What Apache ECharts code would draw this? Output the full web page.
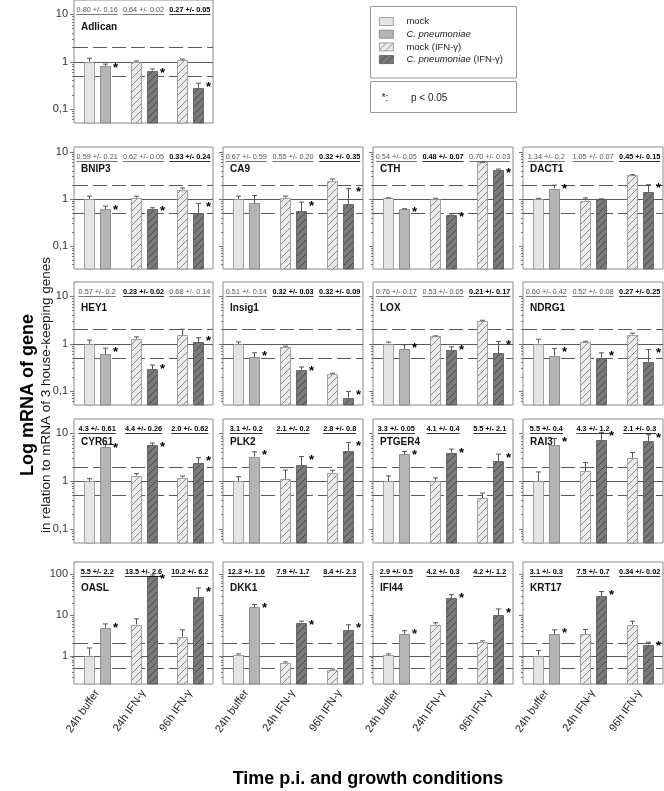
<!DOCTYPE html>
<html><head><meta charset="utf-8">
<script src="https://cdn.jsdelivr.net/npm/echarts@6/dist/echarts.min.js"></script>
<style>html,body{margin:0;padding:0;background:#fff}#c{width:664px;height:791px}</style>
</head><body><div id="c"></div>
<script>
// ---------------- DATA ----------------
const categories = ['24h buffer', '24h IFN-γ', '96h IFN-γ'];
const genes = ['Adlican','BNIP3','CA9','CTH','DACT1','HEY1','Insig1','LOX','NDRG1',
               'CYR61','PLK2','PTGER4','RAI3','OASL','DKK1','IFI44','KRT17'];
// mock / mock (IFN-γ) bars (light)
const lightValues = [
  [1.0, 1.0, 1.05], [1.0, 1.05, 1.575], [1.0, 1.05, 2.44], [1.03, 1.0, 5.95], [1.0, 0.92, 3.16],
  [1.0, 1.25, 1.5], [0.97, 0.85, 0.225], [1.0, 1.43, 3.0], [1.0, 1.05, 1.55],
  [1.0, 1.3, 1.18], [1.0, 1.08, 1.5], [1.0, 1.02, 0.437], [1.0, 1.6, 3.06],
  [1.0, 5.8, 2.94], [1.06, 0.67, 0.45], [1.04, 5.8, 2.2], [1.0, 3.4, 5.8]
];
const lightErrors = [
  [0.17, 0.03, 0.08], [0.14, 0.09, 0.13], [0.14, 0.09, 0.2], [0.02, 0.03, 0.15], [0.02, 0.13, 0.11],
  [0.18, 0.13, 0.5], [0.11, 0.03, 0.01], [0.07, 0.02, 0.1], [0.23, 0.07, 0.1],
  [0.12, 0.13, 0.09], [0.23, 0.62, 0.18], [0.28, 0.14, 0.12], [0.55, 0.84, 0.9],
  [0.54, 2.2, 1.36], [0.04, 0.03, 0.02], [0.06, 0.6, 0.1], [0.33, 1.0, 1.2]
];
// C. pneumoniae / C. pneumoniae (IFN-γ) bars (dark)
const darkValues = [
  [0.80, 0.645, 0.278], [0.595, 0.615, 0.49], [0.797, 0.54, 0.78], [0.595, 0.46, 4.17], [1.65, 0.97, 1.41],
  [0.595, 0.287, 1.05], [0.506, 0.278, 0.072], [0.76, 0.735, 0.625], [0.55, 0.5, 0.41],
  [5.15, 5.67, 2.36], [3.26, 2.14, 4.3], [3.66, 3.9, 2.6], [5.58, 7.2, 6.77],
  [4.8, 88, 27.3], [15.5, 6.5, 4.3], [3.4, 26.3, 10], [3.4, 29, 1.87]
];
const darkErrors = [
  [0.08, 0.05, 0.07], [0.1, 0.03, 0.31], [0.38, 0.31, 0.87], [0.02, 0.02, 0.13], [0.3, 0.03, 0.59],
  [0.2, 0.063, 0.27], [0.13, 0.04, 0.025], [0.18, 0.115, 0.48], [0.23, 0.135, 0.33],
  [0.7, 0.58, 0.74], [0.84, 1.12, 2.15], [0.51, 0.77, 1.06], [2.2, 3.3, 2.6],
  [1.2, 8, 18.7], [2.5, 0.5, 1.4], [0.7, 5.3, 4], [0.9, 8.6, 0.26]
];
const significant = [
  [1,1,1],[1,1,1],[0,1,1],[1,1,1],[1,0,1],[1,1,1],[1,1,1],[1,1,1],[1,1,1],
  [1,1,1],[1,1,1],[1,1,1],[1,1,1],[1,1,1],[1,1,1],[1,1,1],[1,1,1]
];
const foldTexts = [
  ['0.80 +/- 0.16','0.64 +/- 0.02','0.27 +/- 0.05'],
  ['0.59 +/- 0.21','0.62 +/- 0.05','0.33 +/- 0.24'],
  ['0.67 +/- 0.59','0.55 +/- 0.20','0.32 +/- 0.35'],
  ['0.54 +/- 0.05','0.48 +/- 0.07','0.70 +/- 0.03'],
  ['1.34 +/- 0.2','1.05 +/- 0.07','0.45 +/- 0.15'],
  ['0.57 +/- 0.2','0.23 +/- 0.02','0.68 +/- 0.14'],
  ['0.51 +/- 0.14','0.32 +/- 0.03','0.32 +/- 0.09'],
  ['0.76 +/- 0.17','0.53 +/- 0.05','0.21 +/- 0.17'],
  ['0.60 +/- 0.42','0.52 +/- 0.08','0.27 +/- 0.25'],
  ['4.3 +/- 0.61','4.4 +/- 0.26','2.0 +/- 0.62'],
  ['3.1 +/- 0.2','2.1 +/- 0.2','2.8 +/- 0.8'],
  ['3.3 +/- 0.05','4.1 +/- 0.4','5.5 +/- 2.1'],
  ['5.5 +/- 0.4','4.3 +/- 1.2','2.1 +/- 0.3'],
  ['5.5 +/- 2.2','13.5 +/- 2.6','10.2 +/- 6.2'],
  ['12.3 +/- 1.6','7.9 +/- 1.7','8.4 +/- 2.3'],
  ['2.9 +/- 0.5','4.2 +/- 0.3','4.2 +/- 1.2'],
  ['3.1 +/- 0.3','7.5 +/- 0.7','0.34 +/- 0.02']
];
const foldBold = [
  [0,0,1],[0,0,1],[0,0,1],[0,1,0],[0,0,1],[0,1,0],[0,1,1],[0,0,1],[0,0,1],
  [1,1,1],[1,1,1],[1,1,1],[1,1,1],[1,1,1],[1,1,1],[1,1,1],[1,1,1]
];
const refLevels = [0.5, 1, 2];
const refDashed = [1, 0, 1];
const legendNames = ['mock', 'C. pneumoniae', 'mock (IFN-γ)', 'C. pneumoniae (IFN-γ)'];

// ---------------- LAYOUT ----------------
const FONT = '"Liberation Sans", Arial, Helvetica, sans-serif';
const COLS = [[74, 139], [223, 140], [373, 140], [523, 140]];
const ROWS = [[0, 123], [147, 122], [282, 123], [419, 124], [562, 122]];
const RANGES = [[0.05, 20], [0.032, 12.7], [0.05, 20], [0.05, 20], [0.2, 200]];
const NAME_DY = [22, 17, 21, 18, 21];
const BAR_W = 10, BAR_OFF = 8;

function panelPos(g) {
  if (g === 0) return [0, 0];
  return [1 + Math.floor((g - 1) / 4), (g - 1) % 4];
}

function hatch(bg, fg) {
  const s = 7, cv = document.createElement('canvas');
  cv.width = s; cv.height = s;
  const c = cv.getContext('2d');
  c.fillStyle = bg; c.fillRect(0, 0, s, s);
  c.strokeStyle = fg; c.lineWidth = 1;
  c.beginPath();
  c.moveTo(-1, s + 1); c.lineTo(s + 1, -1);
  c.moveTo(-1, 1); c.lineTo(1, -1);
  c.moveTo(s - 1, s + 1); c.lineTo(s + 1, s - 1);
  c.stroke();
  return { image: cv, repeat: 'repeat' };
}
const STYLES = {
  mock: { fill: '#e4e4e4', stroke: '#8e8e8e' },
  cpn: { fill: '#b5b5b5', stroke: '#7c7c7c' },
  mockIfn: { fill: hatch('#ebebeb', '#8c8c8c'), stroke: '#8e8e8e' },
  cpnIfn: { fill: hatch('#7a7a7a', '#4a4a4a'), stroke: '#555555' }
};
const mctx = document.createElement('canvas').getContext('2d');

const grids = [], xAxes = [], yAxes = [], series = [], titles = [];

genes.forEach((gene, g) => {
  const [r, c] = panelPos(g);
  const [left, width] = COLS[c];
  const [top, height] = ROWS[r];
  const [ymin, ymax] = RANGES[r];
  const bottomRow = r === 4;
  grids.push({ left, top, width, height, show: true, borderColor: '#8a8a8a', borderWidth: 1, backgroundColor: '#fff' });
  xAxes.push({
    type: 'category', gridIndex: g, data: categories,
    axisLine: { show: false }, axisTick: { show: false }, splitLine: { show: false },
    axisLabel: bottomRow ? { show: true, interval: 0, rotate: 55, fontSize: 11, color: '#222', margin: 7, fontFamily: FONT } : { show: false }
  });
  yAxes.push({
    type: 'log', logBase: 10, gridIndex: g, min: ymin, max: ymax,
    axisLine: { show: false }, axisTick: { show: false }, splitLine: { show: false },
    axisLabel: c === 0 ? {
      show: true, fontSize: 11, color: '#333', margin: 6, fontFamily: FONT,
      showMinLabel: false, showMaxLabel: false,
      formatter: v => (v < 1 ? String(+v.toFixed(3)).replace('.', ',') : String(Math.round(v)))
    } : { show: false }
  });

  // reference lines 0.5 / 1 / 2
  series.push({
    type: 'custom', xAxisIndex: g, yAxisIndex: g, z: 1, silent: true,
    encode: { x: 0, y: 1 },
    data: refLevels.map((v, i) => [0, v, refDashed[i]]),
    renderItem(params, api) {
      const cs = params.coordSys;
      const y = Math.round(api.coord([0, api.value(1)])[1]) + 0.5;
      return { type: 'line', shape: { x1: cs.x, y1: y, x2: cs.x + cs.width, y2: y },
        style: { stroke: '#5a5a5a', lineWidth: 1, lineDash: api.value(2) ? [14, 5] : null } };
    }
  });

  // y ticks (major + minor), outward
  const tickVals = [];
  for (let e = -2; e <= 2; e++) for (let m = 1; m <= 9; m++) {
    const v = +(m * Math.pow(10, e)).toPrecision(3);
    if (v > ymin * 1.0001 && v < ymax * 0.9999) tickVals.push([0, v, m === 1 ? 1 : 0]);
  }
  series.push({
    type: 'custom', xAxisIndex: g, yAxisIndex: g, z: 3, silent: true,
    encode: { x: 0, y: 1 }, data: tickVals,
    renderItem(params, api) {
      const cs = params.coordSys;
      const y = Math.round(api.coord([0, api.value(1)])[1]) + 0.5;
      const len = api.value(2) ? 4 : 2;
      return { type: 'line', shape: { x1: cs.x - len, y1: y, x2: cs.x, y2: y },
        style: { stroke: '#777', lineWidth: 1 } };
    }
  });

  // bars
  const barData = [];
  for (let k = 0; k < 3; k++) {
    barData.push([k, lightValues[g][k], 0]);
    barData.push([k, darkValues[g][k], 1]);
  }
  series.push({
    type: 'custom', xAxisIndex: g, yAxisIndex: g, z: 2, silent: true,
    encode: { x: 0, y: 1 }, data: barData,
    renderItem(params, api) {
      const cs = params.coordSys;
      const k = api.value(0), side = api.value(2);
      const p = api.coord([k, api.value(1)]);
      const xc = p[0] + (side ? BAR_OFF : -BAR_OFF);
      const bottom = cs.y + cs.height;
      const st = k === 0 ? (side ? STYLES.cpn : STYLES.mock) : (side ? STYLES.cpnIfn : STYLES.mockIfn);
      return { type: 'rect', shape: { x: Math.round(xc - BAR_W / 2) + 0.5, y: Math.round(p[1]) + 0.5, width: BAR_W, height: bottom - Math.round(p[1]) - 0.5 },
        style: { fill: st.fill, stroke: st.stroke, lineWidth: 0.8 } };
    }
  });

  // error bars + significance stars
  const errData = [];
  for (let k = 0; k < 3; k++) {
    errData.push([k, lightValues[g][k], lightErrors[g][k], 0, 0]);
    errData.push([k, darkValues[g][k], darkErrors[g][k], 1, significant[g][k]]);
  }
  series.push({
    type: 'custom', xAxisIndex: g, yAxisIndex: g, z: 4, silent: true,
    encode: { x: 0, y: 1 }, data: errData,
    renderItem(params, api) {
      const k = api.value(0), v = api.value(1), e = api.value(2), side = api.value(3), star = api.value(4);
      const p = api.coord([k, v]);
      const pt = api.coord([k, v + e]);
      const xc = Math.round(p[0] + (side ? BAR_OFF : -BAR_OFF)) + 0.5;
      const children = [];
      if (e > 0) {
        children.push({ type: 'line', shape: { x1: xc, y1: pt[1], x2: xc, y2: p[1] }, style: { stroke: '#555', lineWidth: 1 } });
        children.push({ type: 'line', shape: { x1: xc - 2.5, y1: pt[1], x2: xc + 2.5, y2: pt[1] }, style: { stroke: '#555', lineWidth: 1 } });
      }
      if (star) {
        children.push({ type: 'text', style: { text: '*', x: xc + BAR_W / 2 + 5, y: Math.min(pt[1], p[1]) + 4,
          align: 'center', verticalAlign: 'middle', fontSize: 13, fontWeight: 'bold', fontFamily: FONT, fill: '#000' } });
      }
      return { type: 'group', children };
    }
  });

  // fold-change annotations (underlined)
  series.push({
    type: 'custom', xAxisIndex: g, yAxisIndex: g, z: 4, silent: true,
    encode: { x: 0, y: 1 }, data: [[0, 1], [1, 1], [2, 1]],
    renderItem(params, api) {
      const cs = params.coordSys;
      const k = api.value(0);
      const x = api.coord([k, 1])[0];
      const y = cs.y + 10;
      const txt = foldTexts[g][k], bold = foldBold[g][k];
      const fs = 7.3;
      mctx.font = (bold ? 'bold ' : '') + fs + 'px ' + FONT;
      const w = mctx.measureText(txt).width;
      const col = bold ? '#000' : '#555';
      return { type: 'group', children: [
        { type: 'text', style: { text: txt, x, y, align: 'center', verticalAlign: 'middle', fontSize: fs, fontWeight: bold ? 'bold' : 'normal', fontFamily: FONT, fill: col } },
        { type: 'line', shape: { x1: x - w / 2, y1: y + 4.5, x2: x + w / 2, y2: y + 4.5 }, style: { stroke: col, lineWidth: 0.8 } }
      ] };
    }
  });

  titles.push({ text: gene, left: left + 7, top: top + NAME_DY[r], padding: 0,
    textStyle: { fontSize: 10, fontWeight: 'bold', color: '#111', fontFamily: FONT } });
});

// dummy series for legend entries
const legendStyles = [STYLES.mock, STYLES.cpn, STYLES.mockIfn, STYLES.cpnIfn];
legendNames.forEach((n, i) => {
  series.push({ type: 'custom', name: n, xAxisIndex: 0, yAxisIndex: 0, data: [],
    itemStyle: { color: legendStyles[i].fill, borderColor: legendStyles[i].stroke, borderWidth: 0.8 },
    renderItem() { return null; } });
});

const option = {
  animation: false,
  textStyle: { fontFamily: FONT },
  title: titles,
  grid: grids, xAxis: xAxes, yAxis: yAxes, series,
  legend: {
    left: 379, top: 15.5, orient: 'vertical', icon: 'rect', itemWidth: 14, itemHeight: 8, itemGap: 0.7,
    selectedMode: false, padding: 0,
    data: legendNames.map((n, i) => ({ name: n, itemStyle: { color: legendStyles[i].fill, borderColor: legendStyles[i].stroke, borderWidth: 0.8 } })),
    formatter: name => name.indexOf('C. pneumoniae') === 0
      ? '{p| }{i|C. pneumoniae}{n|' + name.slice(13) + '}'
      : '{p| }{n|' + name + '}',
    textStyle: { fontSize: 9.5, color: '#222', lineHeight: 12, fontFamily: FONT,
      rich: {
        p: { width: 8, fontSize: 9.5, lineHeight: 12 },
        i: { fontStyle: 'italic', fontSize: 9.5, lineHeight: 12, color: '#222', fontFamily: FONT },
        n: { fontSize: 9.5, lineHeight: 12, color: '#222', fontFamily: FONT }
      } }
  },
  graphic: [
    { type: 'rect', shape: { x: 370.5, y: 6.5, width: 146, height: 71.5 }, style: { fill: 'none', stroke: '#9a9a9a', lineWidth: 1 }, z: 10 },
    { type: 'rect', shape: { x: 370.5, y: 81.5, width: 146, height: 31 }, style: { fill: 'none', stroke: '#9a9a9a', lineWidth: 1 }, z: 10 },
    { type: 'text', style: { text: '*:', x: 385, y: 98, align: 'center', verticalAlign: 'middle', fontSize: 10, fill: '#222', fontFamily: FONT }, z: 10 },
    { type: 'text', style: { text: 'p < 0.05', x: 411, y: 98, align: 'left', verticalAlign: 'middle', fontSize: 10, fill: '#222', fontFamily: FONT }, z: 10 },
    { type: 'text', rotation: Math.PI / 2, x: 28, y: 395, style: { text: 'Log mRNA of gene', align: 'center', verticalAlign: 'middle', fontSize: 18, fontWeight: 'bold', fill: '#000', fontFamily: FONT } },
    { type: 'text', rotation: Math.PI / 2, x: 46, y: 395, style: { text: 'in relation to mRNA of 3 house-keeping genes', align: 'center', verticalAlign: 'middle', fontSize: 13.5, fill: '#111', fontFamily: FONT } },
    { type: 'text', x: 368, y: 779, style: { text: 'Time p.i. and growth conditions', align: 'center', verticalAlign: 'middle', fontSize: 18, fontWeight: 'bold', fill: '#000', fontFamily: FONT } }
  ]
};
const chart = echarts.init(document.getElementById('c'), null, { renderer: 'canvas' });
chart.setOption(option);
</script>
</body></html>
